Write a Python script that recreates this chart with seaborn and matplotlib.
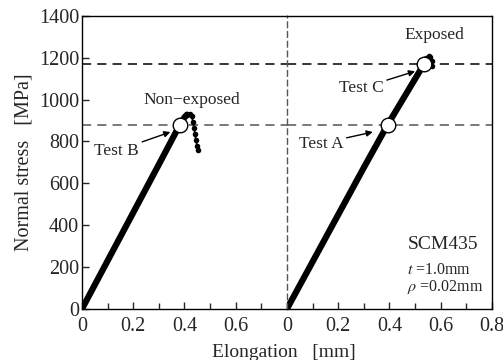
import numpy as np
import pandas as pd
import matplotlib.pyplot as plt
import seaborn as sns
from matplotlib.ticker import MultipleLocator

# Non-exposed specimen (left panel)
elong_non = [0.0, 0.10, 0.20, 0.30, 0.382, 0.40, 0.41, 0.42, 0.428, 0.433, 0.437, 0.441, 0.445, 0.449, 0.452]
stress_non = [0, 230, 460, 690, 880, 915, 928, 932, 920, 895, 865, 835, 805, 780, 760]
# Exposed specimen (right panel)
elong_exp = [0.0, 0.10, 0.20, 0.30, 0.393, 0.535, 0.545, 0.553, 0.560, 0.565, 0.567]
stress_exp = [0, 225, 450, 675, 880, 1170, 1195, 1208, 1205, 1185, 1160]

test_b = (0.382, 880)
test_a = (0.393, 880)
test_c = (0.535, 1170)
dash_levels = [880, 1170]

sns.set_theme(style="ticks")
plt.rcParams['font.family'] = ['Liberation Serif', 'DejaVu Serif']
plt.rcParams['mathtext.fontset'] = 'stix'

fig = plt.figure(figsize=(5.03, 3.6), dpi=100)
ax1 = fig.add_axes([0.163, 0.142, 0.4075, 0.814])
ax2 = fig.add_axes([0.5705, 0.142, 0.4075, 0.814], sharey=ax1)

df_non = pd.DataFrame({'x': elong_non, 'y': stress_non})
df_exp = pd.DataFrame({'x': elong_exp, 'y': stress_exp})

for ax, df, pts in [(ax1, df_non, [test_b]), (ax2, df_exp, [test_a, test_c])]:
    sns.lineplot(data=df.iloc[:7], x='x', y='y', sort=False, ax=ax, color='black', lw=4.5)
    sns.lineplot(data=df.iloc[6:], x='x', y='y', sort=False, ax=ax, color='black', lw=1.2,
                 marker='o', markersize=4, markeredgewidth=0)
    for lv, c in zip(dash_levels, ['#555555', 'black']):
        ax.axhline(lv, color=c, ls=(0, (6, 4)), lw=1.1, zorder=1)
    pdf = pd.DataFrame({'x': [p[0] for p in pts], 'y': [p[1] for p in pts]})
    sns.scatterplot(data=pdf, x='x', y='y', ax=ax, s=110, color='white', edgecolor='black',
                    linewidth=1.0, zorder=5)
    ax.set_xlim(0, 0.8)
    ax.set_ylim(0, 1400)
    ax.xaxis.set_major_locator(MultipleLocator(0.2))
    ax.xaxis.set_minor_locator(MultipleLocator(0.1))
    ax.yaxis.set_major_locator(MultipleLocator(200))
    ax.tick_params(which='both', direction='in', labelsize=14.5, width=1.0, top=False, right=False)
    ax.tick_params(which='major', length=5)
    ax.tick_params(which='minor', length=4)
    ax.set_xlabel('')
    ax.set_ylabel('')
    for s in ax.spines.values():
        s.set_linewidth(1.0)
        s.set_color('black')

ax1.set_xticks([0, 0.2, 0.4, 0.6])
ax1.set_xticklabels(['0', '0.2', '0.4', '0.6'])
ax1.spines['right'].set_visible(False)
ax2.set_xticks([0, 0.2, 0.4, 0.6, 0.8])
ax2.set_xticklabels(['0', '0.2', '0.4', '0.6', '0.8'])
ax2.spines['left'].set_linestyle((0, (4, 3)))
ax2.spines['left'].set_color('#555555')
ax2.tick_params(axis='y', left=False, labelleft=False)
ax1.set_yticks(range(0, 1401, 200))
ax1.set_yticklabels([str(v) for v in range(0, 1401, 200)])
ax1.tick_params(axis='y', pad=2)
ax1.tick_params(axis='x', pad=6)
ax2.tick_params(axis='x', pad=6)

ax1.set_ylabel('Normal stress   [MPa]', fontsize=14.5, labelpad=4)
fig.text(0.565, -0.004, 'Elongation   [mm]', ha='center', va='bottom', fontsize=14)

arrow = dict(arrowstyle='-|>', color='black', lw=1.0, mutation_scale=9, shrinkA=0, shrinkB=0)
ax1.text(0.43, 1000, 'Non\u2212exposed', ha='center', va='center', fontsize=12.5)
ax1.annotate('Test B', xy=(0.345, 845), xytext=(0.135, 755), ha='center', va='center',
             fontsize=12.5, arrowprops=arrow)
ax2.text(0.575, 1308, 'Exposed', ha='center', va='center', fontsize=12.5)
ax2.annotate('Test C', xy=(0.5, 1135), xytext=(0.29, 1055), ha='center', va='center',
             fontsize=12.5, arrowprops=arrow)
ax2.annotate('Test A', xy=(0.335, 845), xytext=(0.133, 790), ha='center', va='center',
             fontsize=12.5, arrowprops=arrow)
ax2.text(0.47, 306, 'SCM435', ha='left', va='center', fontsize=14)
ax2.text(0.47, 186, '$t$ =1.0mm', ha='left', va='center', fontsize=11.5)
ax2.text(0.47, 105, '$\\rho$ =0.02mm', ha='left', va='center', fontsize=11.5)

fig.savefig('out.png', dpi=100)
